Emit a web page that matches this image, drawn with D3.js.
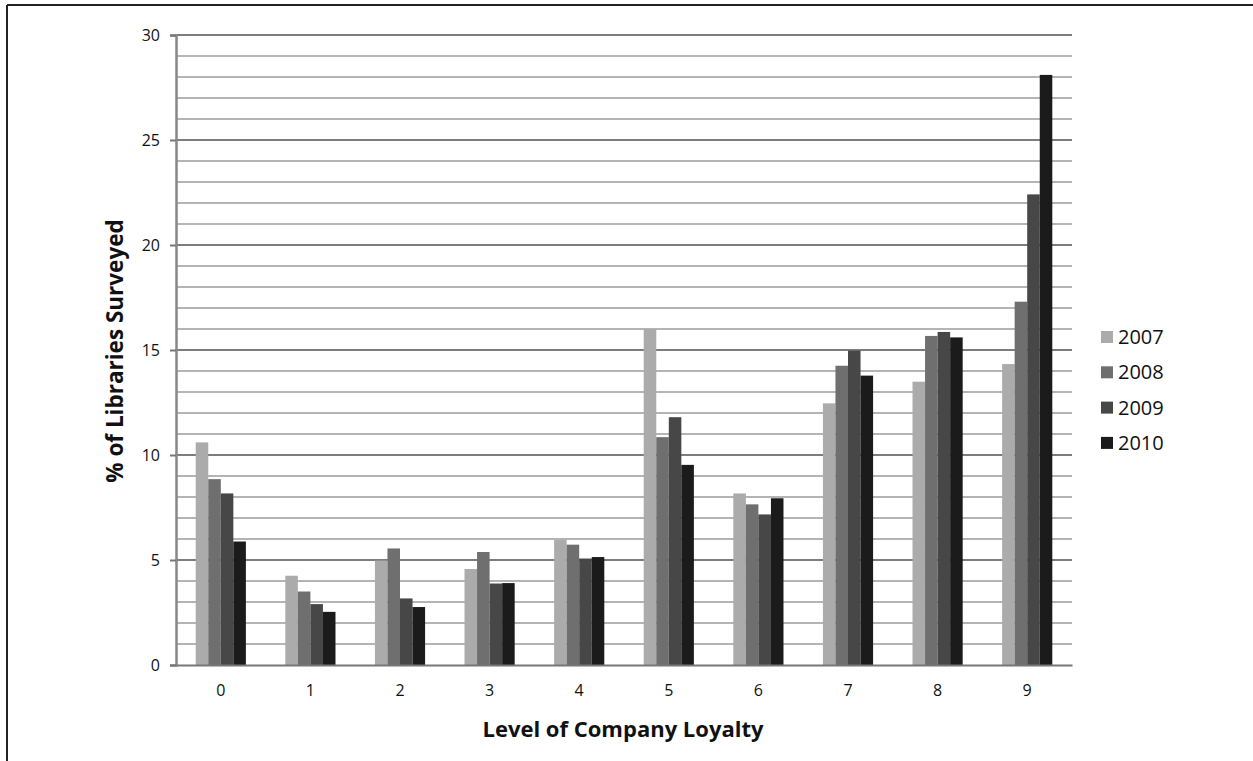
<!DOCTYPE html>
<html>
<head>
<meta charset="utf-8">
<script src="https://cdn.jsdelivr.net/npm/d3@7"></script>
<style>
  html, body { margin: 0; padding: 0; background: #fff; }
  svg { display: block; }
  text { font-family: "Open Sans", "DejaVu Sans", sans-serif; }
</style>
</head>
<body>
<svg id="chart" width="1253" height="761"></svg>
<script>
const categories = ["0", "1", "2", "3", "4", "5", "6", "7", "8", "9"];
const seriesNames = ["2007", "2008", "2009", "2010"];
const values2007 = [10.6, 4.25, 4.97, 4.57, 5.95, 16.0, 8.17, 12.46, 13.49, 14.33];
const values2008 = [8.85, 3.5, 5.55, 5.38, 5.73, 10.85, 7.65, 14.25, 15.67, 17.3];
const values2009 = [8.17, 2.9, 3.17, 3.88, 5.07, 11.8, 7.17, 14.97, 15.86, 22.41];
const values2010 = [5.88, 2.53, 2.76, 3.9, 5.14, 9.53, 7.94, 13.78, 15.6, 28.1];
const yTicks = [0, 5, 10, 15, 20, 25, 30];
const colors = ["#ababab", "#6f6f6f", "#474747", "#1b1b1b"];
const allValues = [values2007, values2008, values2009, values2010];

(function () {
const svg = d3.select("#chart");
const mLeft = 176, mRight = 1072, mTop = 35, mBottom = 665;

// frame (top and left edge)
svg.append("line").attr("x1", 7).attr("x2", 1253).attr("y1", 5).attr("y2", 5)
  .attr("stroke", "#222").attr("stroke-width", 2);
svg.append("line").attr("x1", 7).attr("x2", 7).attr("y1", 5).attr("y2", 761)
  .attr("stroke", "#222").attr("stroke-width", 2);

const y = d3.scaleLinear().domain([0, 30]).range([mBottom, mTop]);
const x0 = d3.scaleBand().domain(categories).range([mLeft, mRight])
  .paddingInner(0.44).paddingOuter(0.22);
const x1 = d3.scaleBand().domain(seriesNames).range([0, x0.bandwidth()]).padding(0);

// gridlines
const gridVals = d3.range(1, 31);
svg.append("g").selectAll("line").data(gridVals).join("line")
  .attr("x1", mLeft).attr("x2", mRight)
  .attr("y1", d => y(d)).attr("y2", d => y(d))
  .attr("stroke", d => d % 5 === 0 ? "#7d7d7d" : "#b4b4b4")
  .attr("stroke-width", 2);

// bars
const data = categories.map((c, i) => ({ c, vals: seriesNames.map((s, j) => ({ s, v: allValues[j][i], j })) }));
svg.append("g").selectAll("g").data(data).join("g")
  .attr("transform", d => `translate(${x0(d.c)},0)`)
  .selectAll("rect").data(d => d.vals).join("rect")
  .attr("x", d => x1(d.s))
  .attr("width", x1.bandwidth())
  .attr("y", d => y(d.v))
  .attr("height", d => y(0) - y(d.v))
  .attr("fill", d => colors[d.j]);

// y axis
const yAxis = d3.axisLeft(y).tickValues(yTicks).tickSize(6).tickPadding(10);
const gy = svg.append("g").attr("transform", `translate(${mLeft},0)`).call(yAxis);
gy.select(".domain").attr("stroke", "#888").attr("stroke-width", 2.5);
gy.selectAll(".tick line").attr("stroke", "#777").attr("stroke-width", 2);
gy.selectAll(".tick text").attr("font-size", 16).attr("font-family", "Open Sans").attr("fill", "#111");

// x axis
const xAxis = d3.axisBottom(x0).tickSize(0).tickPadding(20);
const gx = svg.append("g").attr("transform", `translate(0,${mBottom})`).call(xAxis);
gx.select(".domain").attr("stroke", "#777").attr("stroke-width", 2);
gx.selectAll(".tick text").attr("font-size", 16).attr("font-family", "Open Sans").attr("fill", "#111");

// axis titles
svg.append("text").attr("x", 623).attr("y", 737).attr("text-anchor", "middle")
  .attr("font-size", 22).attr("font-weight", "bold").attr("fill", "#111")
  .text("Level of Company Loyalty");
svg.append("text").attr("transform", "translate(123,351) rotate(-90)")
  .attr("text-anchor", "middle")
  .attr("font-size", 22.5).attr("font-weight", "bold").attr("fill", "#111")
  .text("% of Libraries Surveyed");

// legend
const lg = svg.append("g").selectAll("g").data(seriesNames).join("g")
  .attr("transform", (d, i) => `translate(1101,${337 + i * 35.3})`);
lg.append("rect").attr("x", 0).attr("y", -6).attr("width", 12).attr("height", 12)
  .attr("fill", (d, i) => colors[i]);
lg.append("text").attr("x", 17).attr("y", 0).attr("dy", "0.35em")
  .attr("font-size", 20).attr("fill", "#111").text(d => d);
})();
</script>
</body>
</html>
